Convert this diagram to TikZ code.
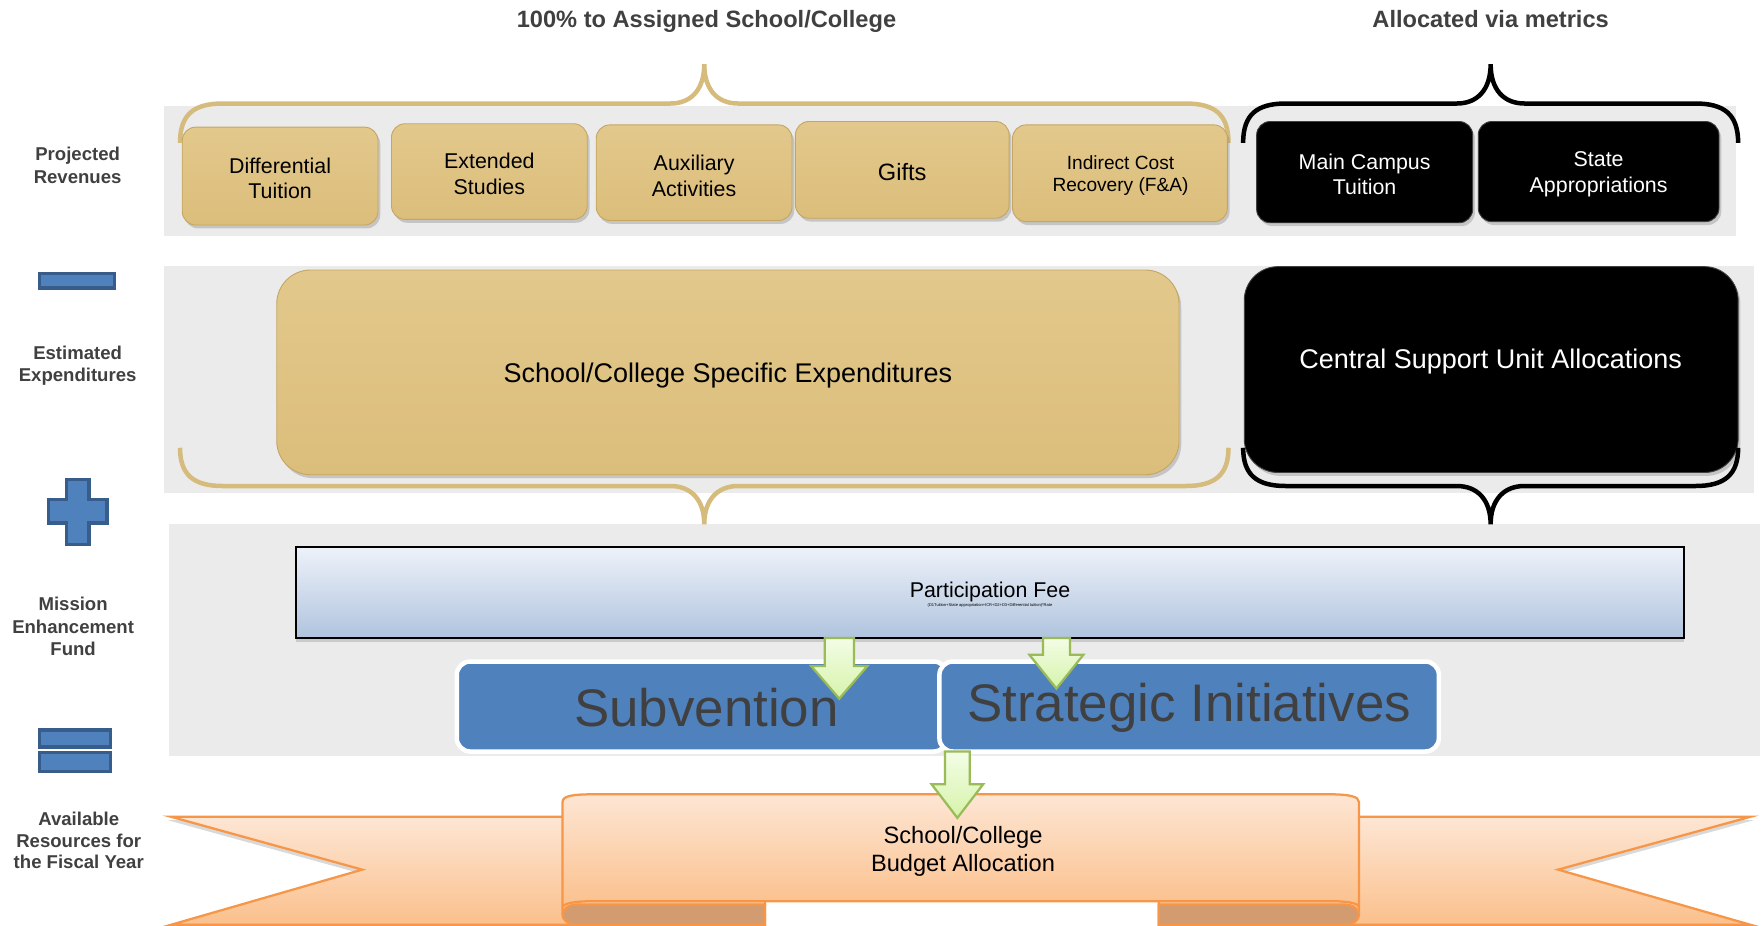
\documentclass[tikz,border=0pt]{standalone}
\usepackage{fontspec}
\setmainfont{Liberation Sans}
\usetikzlibrary{shadows}
\definecolor{bandgray}{HTML}{EBEBEB}
\definecolor{labelgray}{HTML}{404040}
\definecolor{goldfill}{HTML}{DCBE7B}
\definecolor{goldtop}{HTML}{E2C88C}
\definecolor{goldedge}{HTML}{C4A662}
\definecolor{bracegold}{HTML}{D6BC7C}
\definecolor{iconblue}{HTML}{4F81BD}
\definecolor{icondark}{HTML}{385D8A}
\definecolor{pftop}{HTML}{EEF2F9}
\definecolor{pfbot}{HTML}{B0C4DE}
\definecolor{orangeline}{HTML}{F79646}
\definecolor{orangetop}{HTML}{FDE6D4}
\definecolor{orangebot}{HTML}{FBC08C}
\definecolor{folddark}{HTML}{D39C70}
\definecolor{greenline}{HTML}{9BBB59}
\definecolor{greentop}{HTML}{F3FDE6}
\definecolor{greenbot}{HTML}{D6F3AA}
\newcommand\greenarrow[5]{% x, ytop, yneck, ytip, half shaft
  \draw[garrowstyle] (#1-#5,#2) -- (#1+#5,#2) -- (#1+#5,#3) -- (#1+#5+12,#3) -- (#1,#4) -- (#1-#5-12,#3) -- (#1-#5,#3) -- cycle;}
\begin{document}
\begin{tikzpicture}[x=1pt,y=-1pt,
  band/.style={fill=bandgray, draw=none},
  sidelabel/.style={font=\fontsize{16.5}{20}\selectfont\bfseries, text=labelgray, align=center, inner sep=0pt},
  toplabel/.style={font=\fontsize{21}{25}\selectfont\bfseries, text=labelgray, inner sep=0pt},
  goldbox/.style={rounded corners=12pt, top color=goldtop, bottom color=goldfill, draw=goldedge, line width=0.8pt,
     drop shadow={shadow xshift=2pt, shadow yshift=-3pt, opacity=0.35}, align=center, inner sep=0pt,
     font=\fontsize{19}{23}\selectfont},
  blackbox/.style={rounded corners=12pt, fill=black, draw=black!75, line width=0.8pt,
     drop shadow={shadow xshift=2pt, shadow yshift=-3pt, opacity=0.35}, align=center, inner sep=0pt, text=white,
     font=\fontsize{19}{23}\selectfont},
  boxtext/.style={align=center, inner sep=0pt, font=\fontsize{19}{23}\selectfont},
  gbrace/.style={draw=bracegold, line width=4pt},
  kbrace/.style={draw=black, line width=4pt},
  icon/.style={fill=iconblue, draw=icondark, line width=3pt},
  bluebox/.style={rounded corners=12pt, fill=iconblue, draw=white, line width=4pt, inner sep=0pt,
     text=labelgray, font=\fontsize{47}{50}\selectfont},
  garrowstyle/.style={top color=greentop, bottom color=greenbot, draw=greenline, line width=2pt, line join=miter},
  ribbon/.style={top color=orangetop, bottom color=orangebot, draw=orangeline, line width=2pt, line join=miter},
  fold/.style={fill=folddark, draw=orangeline, line width=2pt}
]
\useasboundingbox (0,0) rectangle (1568,823);

% grey bands
\path[band] (146,94) rectangle (1543,210);
\path[band] (146,236) rectangle (1559,438);
\path[band] (150,466) rectangle (1564,672);

% top labels
\node[toplabel] (t1) at (628,19) {100\% to Assigned School/College};
\node[toplabel] (t2) at (1325,17) {Allocated via metrics};

% top braces
\draw[gbrace] (160,127) .. controls (160,102) and (172,92) .. (198,92) -- (596,92)
  .. controls (614,92) and (626,80) .. (626,57) .. controls (626,80) and (638,92) .. (656,92)
  -- (1054,92) .. controls (1080,92) and (1092,102) .. (1092,127);
\draw[kbrace] (1105,127) .. controls (1105,102) and (1117,92) .. (1143,92) -- (1295,92)
  .. controls (1313,92) and (1325,80) .. (1325,57) .. controls (1325,80) and (1337,92) .. (1355,92)
  -- (1507,92) .. controls (1533,92) and (1545,102) .. (1545,127);

% revenue boxes
\node[goldbox, minimum width=174pt, minimum height=87pt] (dt) at (249,156.5) {};
\node[boxtext] (dtt) at (249,158.5) {Differential\\Tuition};
\node[goldbox, minimum width=174pt, minimum height=85pt] (es) at (435,152.5) {};
\node[boxtext] (est) at (435,154.5) {Extended\\Studies};
\node[goldbox, minimum width=174pt, minimum height=85pt] (aa) at (617,153.5) {};
\node[boxtext] (aat) at (617,156.5) {Auxiliary\\Activities};
\node[goldbox, minimum width=190pt, minimum height=86pt] (gf) at (802,151) {};
\node[boxtext, font=\fontsize{21}{25}\selectfont] (gft) at (802,153) {Gifts};
\node[goldbox, minimum width=191pt, minimum height=86pt] (icr) at (995.5,154) {};
\node[boxtext, font=\fontsize{17}{20}\selectfont] (icrt) at (996,156) {Indirect Cost\\Recovery (F\&A)};
\node[blackbox, minimum width=192pt, minimum height=90pt] (mct) at (1213,153) {};
\node[boxtext, text=white] (mctt) at (1213,155) {Main Campus\\Tuition};
\node[blackbox, minimum width=214pt, minimum height=89pt] (sa) at (1421,152.5) {};
\node[boxtext, text=white] (sat) at (1421,155) {State\\Appropriations};

% expenditures
\node[goldbox, rounded corners=30pt, minimum width=802pt, minimum height=182pt] (sce) at (647,331) {};
\node[boxtext, font=\fontsize{24}{28}\selectfont] (scet) at (647,334) {School/College Specific Expenditures};
\node[blackbox, rounded corners=30pt, minimum width=439pt, minimum height=183pt] (csu) at (1325.5,328.5) {};
\node[boxtext, text=white, font=\fontsize{24}{28}\selectfont] (csut) at (1325,321) {Central Support Unit Allocations};

% bottom braces
\draw[gbrace] (160,398) .. controls (160,422) and (172,432) .. (198,432) -- (596,432)
  .. controls (614,432) and (626,444) .. (626,466) .. controls (626,444) and (638,432) .. (656,432)
  -- (1054,432) .. controls (1080,432) and (1092,422) .. (1092,398);
\draw[kbrace] (1105,398) .. controls (1105,422) and (1117,432) .. (1143,432) -- (1295,432)
  .. controls (1313,432) and (1325,444) .. (1325,466) .. controls (1325,444) and (1337,432) .. (1355,432)
  -- (1507,432) .. controls (1533,432) and (1545,422) .. (1545,398);

% side labels and icons
\node[sidelabel] (l1) at (69,147) {Projected\\Revenues};
\draw[icon] (35,243) rectangle (102,256);
\node[sidelabel] (l2) at (69,325) {Estimated\\Expenditures};
\draw[icon] (59,426) -- (79,426) -- (79,444) -- (95,444) -- (95,465) -- (79,465) -- (79,484) -- (59,484) -- (59,465) -- (43,465) -- (43,444) -- (59,444) -- cycle;
\node[sidelabel] (l3) at (65,557) {Mission\\Enhancement\\Fund};
\draw[icon] (35,649) rectangle (98,664);
\draw[icon] (35,669) rectangle (98,686);
\node[sidelabel, font=\fontsize{16.5}{19.5}\selectfont\bfseries] (l4) at (70,747) {Available\\Resources for\\the Fiscal Year};

% participation fee
\node[draw=black, line width=2pt, top color=pftop, bottom color=pfbot, shading angle=0,
      minimum width=1234pt, minimum height=81pt, inner sep=0pt,
      drop shadow={shadow xshift=0pt, shadow yshift=-4pt, opacity=0.3}] (pf) at (880,526.5) {};
\node[font=\fontsize{19}{22}\selectfont, inner sep=0pt] (pft) at (880,526) {Participation Fee};
\node[font=\fontsize{3.6}{4}\selectfont, inner sep=0pt] (pff) at (880,538) {(D1Tuition+State appropriation+ICR+D2+D3+Differential tuition)*Rate};

% blue boxes
\node[bluebox, minimum width=436pt, minimum height=80pt] (sub) at (624,628) {};
\node[inner sep=0pt, text=labelgray, font=\fontsize{47}{50}\selectfont] (subt) at (628,629) {Subvention};
\node[bluebox, minimum width=444pt, minimum height=80pt] (si) at (1057,628) {};
\node[inner sep=0pt, text=labelgray, font=\fontsize{47}{50}\selectfont] (sit) at (1057,629) {Strategic Initiatives};

% green arrows
\greenarrow{746}{567}{592}{621}{13}
\greenarrow{939}{567}{582}{612}{12}

% ribbon banner
\draw[ribbon, drop shadow={shadow xshift=-3pt, shadow yshift=-3pt, opacity=0.3}]
  (152,726) -- (680,726) -- (680,822) -- (152,822) -- (322,773) -- cycle;
\draw[ribbon, drop shadow={shadow xshift=3pt, shadow yshift=-3pt, opacity=0.3}]
  (1030,726) -- (1556,726) -- (1385,773) -- (1556,822) -- (1030,822) -- cycle;
\draw[fold] (680,804) -- (512,804) .. controls (496,805) and (496,821) .. (512,822) -- (680,822) -- cycle;
\draw[fold] (1030,804) -- (1196,804) .. controls (1212,805) and (1212,821) .. (1196,822) -- (1030,822) -- cycle;
\draw[ribbon] (500,713) .. controls (500,707) and (510,706) .. (530,706) -- (1180,706)
  .. controls (1200,706) and (1208,708) .. (1208,713) -- (1208,807)
  .. controls (1208,802) and (1195,801) .. (1180,801) -- (530,801) .. controls (510,801) and (500,803) .. (500,807) -- cycle;
\node[font=\fontsize{21}{25}\selectfont, align=center, inner sep=0pt] (sba) at (856,757) {School/College\\Budget Allocation};

\greenarrow{851}{668}{697}{727}{11}
\end{tikzpicture}
\end{document}
